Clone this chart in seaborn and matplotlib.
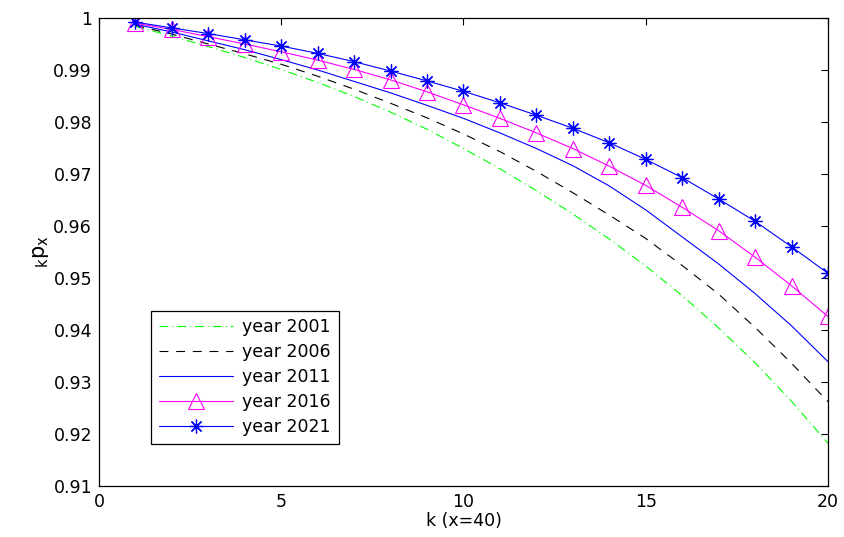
import numpy as np
import pandas as pd
import seaborn as sns
import matplotlib
matplotlib.use("Agg")
import matplotlib.pyplot as plt

k = list(range(1, 21))
p2001 = [0.9984, 0.9965, 0.9945, 0.9924, 0.9901, 0.9876, 0.9849, 0.9819, 0.9786, 0.9749,
         0.9710, 0.9668, 0.9623, 0.9575, 0.9523, 0.9466, 0.9404, 0.9337, 0.9263, 0.9182]
p2006 = [0.9986, 0.9969, 0.9950, 0.9931, 0.9911, 0.9888, 0.9863, 0.9836, 0.9808, 0.9777,
         0.9743, 0.9705, 0.9664, 0.9621, 0.9576, 0.9524, 0.9469, 0.9405, 0.9336, 0.9262]
p2011 = [0.9988, 0.9973, 0.9956, 0.9939, 0.9920, 0.9900, 0.9878, 0.9856, 0.9832, 0.9807,
         0.9779, 0.9749, 0.9716, 0.9677, 0.9631, 0.9579, 0.9527, 0.9470, 0.9408, 0.9339]
p2016 = [0.9990, 0.9978, 0.9964, 0.9950, 0.9935, 0.9919, 0.9901, 0.9881, 0.9858, 0.9833,
         0.9807, 0.9779, 0.9749, 0.9715, 0.9678, 0.9636, 0.9591, 0.9540, 0.9485, 0.9426]
p2021 = [0.9992, 0.9981, 0.9970, 0.9958, 0.9946, 0.9932, 0.9916, 0.9898, 0.9879, 0.9859,
         0.9837, 0.9813, 0.9788, 0.9760, 0.9728, 0.9693, 0.9652, 0.9609, 0.9560, 0.9509]
labels = ["year 2001", "year 2006", "year 2011", "year 2016", "year 2021"]
xticks = [0, 5, 10, 15, 20]
yticks = [0.91, 0.92, 0.93, 0.94, 0.95, 0.96, 0.97, 0.98, 0.99, 1.0]
ytick_labels = ["0.91", "0.92", "0.93", "0.94", "0.95", "0.96", "0.97", "0.98", "0.99", "1"]

sns.set_style("white")
plt.rcParams["font.family"] = ["DejaVu Sans"]
plt.rcParams["mathtext.fontset"] = "dejavusans"
plt.rcParams["text.color"] = "black"
plt.rcParams["axes.labelcolor"] = "black"
plt.rcParams["xtick.color"] = "black"
plt.rcParams["ytick.color"] = "black"

fig = plt.figure(figsize=(8.44, 5.37), dpi=100)
ax = fig.add_axes([99 / 844, 1 - 486 / 537, (828 - 99) / 844, (486 - 18) / 537])

series = [p2001, p2006, p2011, p2016, p2021]
styles = [
    dict(color=(0, 1, 0), linestyle=(0, (8, 3.5, 1, 3.5)), marker=None),
    dict(color="black", linestyle=(0, (8, 7)), marker=None),
    dict(color=(0, 0, 1), linestyle="-", marker=None),
    dict(color=(1, 0, 1), linestyle="-", marker="^", markersize=11,
         markerfacecolor="none", markeredgecolor=(1, 0, 1), markeredgewidth=0.8),
    dict(color=(0, 0, 1), linestyle="-", marker=(8, 2, 0), markersize=10,
         markerfacecolor="none", markeredgecolor=(0, 0, 1), markeredgewidth=0.9),
]
for vals, lab, st in zip(series, labels, styles):
    df = pd.DataFrame({"k": k, "p": vals})
    sns.lineplot(data=df, x="k", y="p", ax=ax, label=lab, linewidth=0.8, **st)

ax.set_xlim(0, 20)
ax.set_ylim(0.91, 1.0)
ax.set_xticks(xticks)
ax.set_xticklabels([str(t) for t in xticks])
ax.set_yticks(yticks)
ax.set_yticklabels(ytick_labels)
ax.tick_params(direction="in", top=True, right=True, length=5, width=0.8,
               labelsize=12.5, colors="black", pad=5)
for sp in ax.spines.values():
    sp.set_color("black")
    sp.set_linewidth(0.9)

ax.set_xlabel("k (x=40)", fontsize=12.5, labelpad=1, color="black")
ax.set_ylabel(r"$_{\mathrm{k}}\mathrm{p}_{\mathrm{x}}$", fontsize=15, labelpad=2, color="black")

leg = ax.legend(loc="lower left", bbox_to_anchor=(52 / 729, 42 / 468), borderaxespad=0,
                fontsize=12.5, frameon=True, fancybox=False, framealpha=1,
                edgecolor="black", handlelength=4.3, labelspacing=0.4,
                borderpad=0.45, handletextpad=0.5)
leg.get_frame().set_linewidth(0.9)
for t in leg.get_texts():
    t.set_color("black")

fig.savefig("out.png", dpi=100)
